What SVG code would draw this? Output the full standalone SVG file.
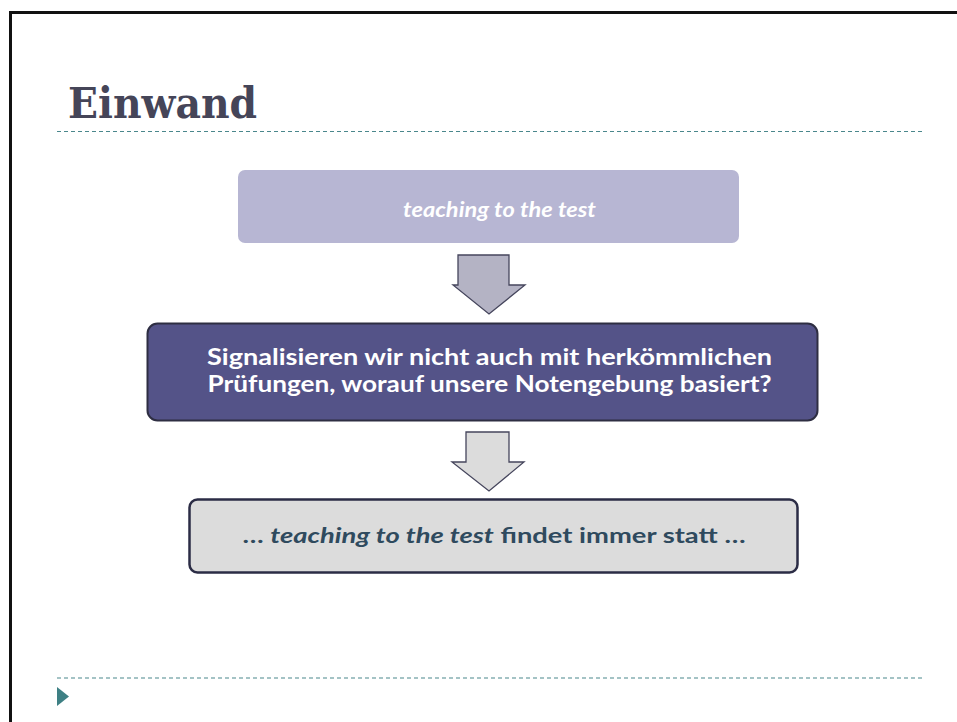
<svg xmlns="http://www.w3.org/2000/svg" width="957" height="722" viewBox="0 0 957 722">
<defs>
<style>
.dash{stroke:#4a878c;stroke-width:1.2;stroke-dasharray:4 3;fill:none}
.arrow{stroke:#45455c;stroke-width:1.3;stroke-linejoin:miter}
.t{font-family:"Lato","Open Sans","Liberation Sans",sans-serif;font-weight:bold;text-anchor:middle}
</style>
</defs>
<rect width="957" height="722" fill="#ffffff"/>
<path d="M10.5 722 V12.5 H957" fill="none" stroke="#111111" stroke-width="3"/>
<text x="68" y="118" font-family="'DejaVu Serif','Liberation Serif',serif" font-weight="bold" font-size="42" fill="#454558" textLength="189" lengthAdjust="spacingAndGlyphs">Einwand</text>
<line class="dash" x1="57" y1="131.5" x2="922" y2="131.5"/>
<line class="dash" x1="57" y1="678" x2="922" y2="678"/>
<polygon points="57,687 69,696.5 57,706" fill="#3e8084"/>
<g id="node-top">
<rect x="238" y="170" width="501" height="73" rx="7" fill="#b7b6d3"/>
<text class="t" x="499.5" y="217" font-size="21" font-style="italic" fill="#ffffff" textLength="193" lengthAdjust="spacingAndGlyphs">teaching to the test</text>
</g>
<g id="node-middle">
<rect x="147.5" y="323.5" width="670" height="97" rx="10" fill="#545388" stroke="#2e2e42" stroke-width="2"/>
<text class="t" x="489.5" y="365" font-size="22" fill="#ffffff" textLength="565" lengthAdjust="spacingAndGlyphs">Signalisieren wir nicht auch mit herkömmlichen</text>
<text class="t" x="489.5" y="392" font-size="22" fill="#ffffff" textLength="564" lengthAdjust="spacingAndGlyphs">Prüfungen, worauf unsere Notengebung basiert?</text>
</g>
<g id="node-bottom">
<rect x="189.5" y="499.5" width="608" height="73" rx="8" fill="#dcdcdc" stroke="#2b2c45" stroke-width="2.5"/>
<text class="t" x="494" y="543" font-size="21" fill="#2f4a5e" textLength="503" lengthAdjust="spacingAndGlyphs">… <tspan font-style="italic">teaching to the test</tspan> findet immer statt …</text>
</g>
<g id="connectors">
<polygon class="arrow" points="458,255 509,255 509,285 525,285 489,314 453,285 458,285" fill="#b4b3c4"/>
<polygon class="arrow" points="466,432 509,432 509,462 524,462 489,491 452,462 466,462" fill="#dcdcdc"/>
</g>
</svg>
